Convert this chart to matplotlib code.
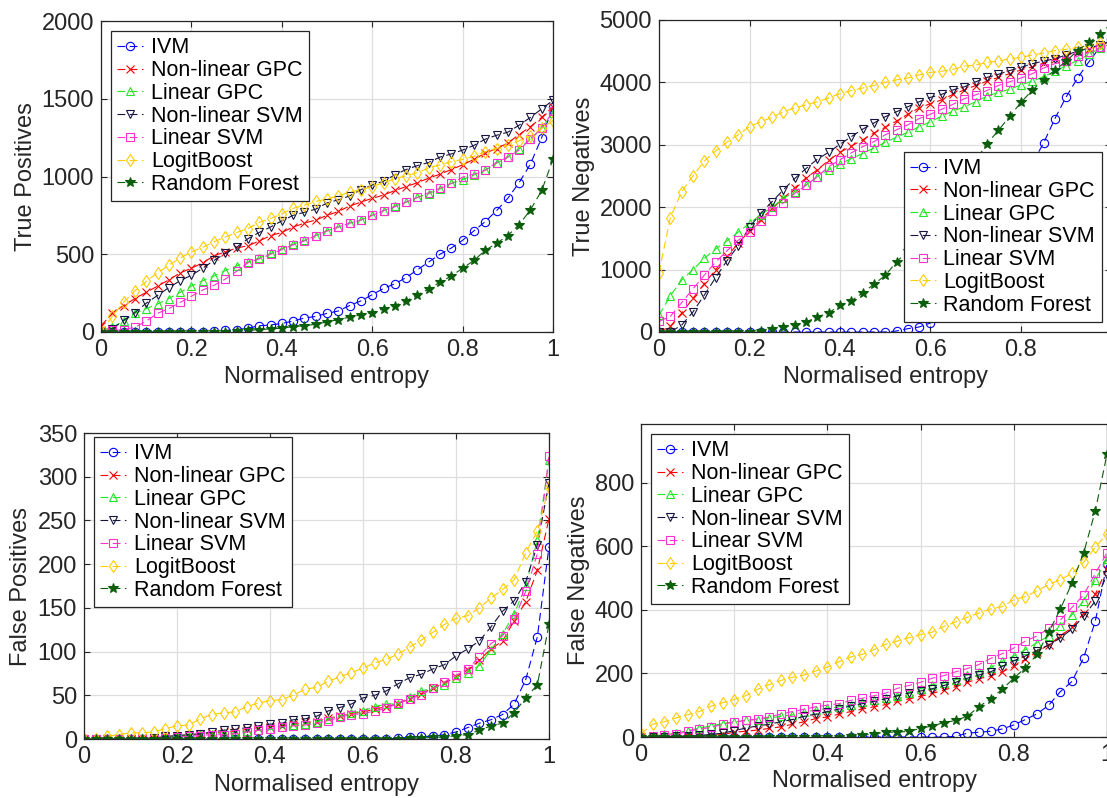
import numpy as np
import matplotlib
matplotlib.use("Agg")
import matplotlib.pyplot as plt

plt.rcParams["font.family"] = ["Liberation Sans", "DejaVu Sans"]

entropy = np.linspace(0, 1, 41)

names = ["IVM", "Non-linear GPC", "Linear GPC", "Non-linear SVM",
         "Linear SVM", "LogitBoost", "Random Forest"]

# True positives
tp_ivm = [0, 0, 0, 0, 0, 0, 0, 0, 0, 2, 5, 10, 15, 25, 40, 45, 55, 70, 90, 100,
          120, 135, 170, 200, 240, 280, 310, 350, 400, 450, 500, 540, 590, 650, 710, 780,
          860, 960, 1080, 1250, 1450]
tp_nlgpc = [40, 120, 170, 215, 255, 295, 335, 380, 410, 445, 490, 515, 540, 555, 585, 620,
            640, 675, 700, 720, 750, 775, 810, 835, 860, 880, 910, 935, 960, 990, 1015, 1045,
            1075, 1110, 1150, 1180, 1215, 1270, 1320, 1380, 1450]
tp_lgpc = [10, 30, 70, 120, 150, 180, 215, 255, 295, 330, 360, 395, 425, 450, 475, 505,
           535, 565, 590, 620, 650, 675, 700, 720, 750, 780, 810, 835, 865, 890, 920, 955,
           980, 1010, 1040, 1085, 1125, 1180, 1240, 1310, 1410]
tp_nlsvm = [0, 20, 75, 125, 185, 235, 285, 330, 365, 410, 460, 505, 545, 600, 640, 675,
            715, 750, 770, 790, 830, 850, 875, 915, 945, 970, 1010, 1045, 1070, 1090, 1125,
            1145, 1170, 1200, 1240, 1265, 1285, 1330, 1380, 1435, 1490]
tp_lsvm = [5, 10, 15, 30, 70, 120, 150, 190, 230, 270, 300, 340, 390, 445, 470, 500,
           530, 560, 585, 620, 650, 675, 700, 720, 750, 780, 805, 835, 865, 895, 925, 955,
           995, 1015, 1040, 1090, 1125, 1170, 1240, 1310, 1420]
tp_logit = [0, 100, 190, 265, 325, 380, 430, 475, 515, 545, 580, 610, 640, 665, 705, 730,
            760, 795, 815, 840, 855, 875, 900, 915, 935, 960, 985, 1005, 1025, 1055, 1075,
            1095, 1110, 1130, 1160, 1180, 1200, 1230, 1260, 1310, 1360]
tp_rf = [0, 0, 0, 0, 0, 0, 0, 0, 0, 0, 2, 3, 5, 10, 15, 20, 25, 35, 40, 50,
         65, 80, 95, 110, 125, 150, 170, 200, 240, 275, 320, 360, 410, 460, 525, 570,
         620, 690, 785, 910, 1110]

# True negatives
tn_ivm = [0, 0, 0, 0, 0, 0, 0, 0, 0, 0, 0, 0, 0, 0, 0, 0, 0, 0, 0, 0,
          0, 16, 54, 80, 145, 300, 500, 750, 1000, 1350, 1700, 2050, 2400, 2700, 3030, 3420,
          3770, 4070, 4330, 4570, 4700]
tn_nlgpc = [0, 90, 300, 540, 770, 1000, 1210, 1420, 1620, 1800, 1980, 2140, 2310, 2470,
            2600, 2750, 2880, 2980, 3080, 3190, 3280, 3380, 3490, 3590, 3660, 3720, 3810,
            3880, 3950, 4020, 4080, 4140, 4200, 4250, 4310, 4370, 4430, 4490, 4530, 4590, 4650]
tn_lgpc = [270, 580, 830, 1000, 1180, 1330, 1460, 1600, 1740, 1880, 2000, 2140, 2250, 2360,
           2490, 2600, 2690, 2780, 2860, 2950, 3040, 3120, 3200, 3290, 3370, 3460, 3540,
           3610, 3690, 3780, 3840, 3890, 3960, 4020, 4090, 4180, 4270, 4350, 4450, 4550, 4620]
tn_nlsvm = [0, 0, 110, 320, 590, 870, 1140, 1380, 1680, 1900, 2090, 2280, 2460, 2620, 2770,
            2880, 3010, 3130, 3250, 3350, 3450, 3530, 3610, 3690, 3760, 3810, 3880, 3930,
            4010, 4080, 4130, 4190, 4240, 4300, 4340, 4380, 4440, 4500, 4550, 4600, 4660]
tn_lsvm = [170, 250, 470, 690, 910, 1120, 1300, 1470, 1600, 1780, 1940, 2070, 2220, 2350,
           2490, 2650, 2760, 2870, 2970, 3050, 3160, 3240, 3320, 3420, 3490, 3570, 3650,
           3740, 3800, 3870, 3950, 4010, 4070, 4140, 4230, 4300, 4340, 4420, 4480, 4560, 4640]
tn_logit = [950, 1830, 2250, 2500, 2740, 2900, 3040, 3160, 3290, 3370, 3440, 3530, 3590,
            3640, 3690, 3750, 3820, 3870, 3910, 3950, 4000, 4040, 4070, 4120, 4160, 4180,
            4210, 4260, 4280, 4320, 4340, 4380, 4400, 4440, 4470, 4510, 4530, 4560, 4580,
            4630, 4680]
tn_rf = [0, 0, 0, 0, 0, 0, 0, 0, 0, 10, 54, 80, 107, 160, 240, 305, 430, 500, 627, 766,
         906, 1125, 1300, 1500, 1750, 2000, 2250, 2500, 2750, 3017, 3230, 3457, 3680, 3875,
         4046, 4196, 4340, 4510, 4640, 4770, 4850]

# False positives
fp_ivm = [0, 0, 0, 0, 0, 0, 0, 0, 0, 0, 0, 0, 0, 0, 0, 0, 0, 0, 0, 0,
          0, 0, 0, 0, 0, 0, 0, 1, 2, 3, 3, 5, 8, 13, 18, 22, 28, 40, 68, 117, 220]
fp_nlgpc = [0, 0, 0, 0, 0, 1, 1, 2, 3, 4, 6, 7, 8, 9, 11, 13, 14, 15, 17, 19,
            20, 24, 26, 29, 31, 34, 37, 40, 46, 52, 58, 64, 71, 79, 90, 103, 112, 135,
            157, 193, 252]
fp_lgpc = [0, 0, 0, 0, 0, 1, 1, 2, 3, 4, 6, 6, 7, 7, 9, 10, 11, 14, 16, 17,
           20, 23, 26, 30, 32, 37, 40, 40, 48, 55, 58, 62, 70, 76, 84, 102, 120, 143,
           175, 228, 319]
fp_nlsvm = [0, 0, 0, 0, 0, 0, 1, 3, 4, 5, 6, 8, 10, 11, 13, 15, 17, 18, 22, 23,
            26, 32, 36, 40, 47, 50, 55, 63, 70, 74, 80, 85, 95, 103, 112, 128, 146, 158,
            180, 222, 293]
fp_lsvm = [0, 0, 0, 0, 0, 0, 0, 1, 2, 3, 4, 5, 5, 6, 8, 10, 12, 14, 15, 16,
           18, 21, 25, 28, 29, 32, 35, 41, 46, 50, 58, 65, 73, 80, 94, 109, 118, 137,
           169, 212, 324]
fp_logit = [0, 0, 3, 5, 7, 7, 8, 12, 15, 16, 23, 28, 30, 31, 37, 41, 44, 45, 50, 57,
            59, 66, 71, 76, 81, 87, 91, 97, 105, 113, 122, 131, 138, 141, 150, 161, 171,
            182, 213, 238, 288]
fp_rf = [0, 0, 0, 0, 0, 0, 0, 0, 0, 0, 0, 0, 0, 0, 0, 0, 0, 0, 0, 0,
         0, 0, 0, 0, 0, 0, 0, 0, 1, 1, 2, 2, 4, 5, 10, 15, 18, 30, 47, 62, 131]

# False negatives
fn_ivm = [0, 0, 0, 0, 0, 0, 0, 0, 0, 0, 0, 0, 0, 0, 0, 0, 0, 0, 0, 0,
          0, 0, 0, 0, 0, 0, 0, 2, 12, 15, 18, 25, 38, 55, 73, 100, 143, 175, 250, 365, 545]
fn_nlgpc = [0, 0, 0, 1, 2, 3, 5, 8, 15, 18, 22, 27, 32, 40, 48, 58, 63, 72, 80, 88,
            95, 102, 112, 120, 128, 137, 148, 158, 172, 183, 192, 205, 222, 245, 268, 290,
            318, 345, 390, 450, 530]
fn_lgpc = [0, 3, 8, 12, 20, 28, 35, 42, 48, 52, 55, 60, 65, 70, 78, 85, 90, 95, 100, 110,
           115, 122, 128, 140, 152, 165, 170, 180, 195, 205, 218, 238, 255, 275, 297, 318,
           350, 385, 428, 495, 560]
fn_nlsvm = [0, 0, 1, 2, 3, 5, 8, 12, 20, 28, 35, 40, 48, 55, 65, 72, 80, 88, 98, 105,
            112, 120, 130, 138, 145, 152, 162, 172, 185, 195, 205, 222, 240, 255, 272, 290,
            312, 340, 380, 428, 510]
fn_lsvm = [0, 2, 5, 8, 18, 25, 30, 40, 47, 52, 57, 63, 72, 80, 87, 95, 100, 105, 115, 122,
           130, 138, 153, 162, 172, 185, 193, 205, 215, 228, 247, 262, 280, 302, 318, 342,
           368, 408, 447, 515, 580]
fn_logit = [10, 40, 48, 60, 70, 80, 97, 108, 118, 130, 150, 165, 178, 188, 195, 208, 220,
            237, 252, 260, 275, 292, 302, 313, 322, 330, 348, 362, 377, 390, 403, 410, 432,
            442, 460, 480, 495, 515, 550, 597, 640]
fn_rf = [0, 0, 0, 0, 0, 0, 0, 0, 0, 0, 0, 0, 0, 0, 0, 0, 0, 0, 2, 5,
         10, 15, 15, 18, 27, 35, 45, 52, 65, 95, 120, 150, 185, 218, 260, 330, 403, 485,
         580, 712, 890]

colors = ["#0000ff", "#ff0000", "#22e622", "#15153f", "#ff30d0", "#ffcc00", "#0b5e0b"]
markers = ["o", "x", "^", "v", "s", "d", "*"]
filled = [False, False, False, False, False, False, True]

W, H = 1107, 798
fig = plt.figure(figsize=(W / 100, H / 100), dpi=100)


def px_axes(left, right, top, bottom):
    return fig.add_axes([left / W, 1 - bottom / H, (right - left) / W, (bottom - top) / H])


panels = [
    # data, ylabel, ylim, ystep, axes px (l, r, t, b), legend loc, legend anchor px, label coords
    ([tp_ivm, tp_nlgpc, tp_lgpc, tp_nlsvm, tp_lsvm, tp_logit, tp_rf], "True Positives",
     2000, 500, (101, 553, 21, 332), "upper left", (111, 31), (-0.1416, -0.11)),
    ([tn_ivm, tn_nlgpc, tn_lgpc, tn_nlsvm, tn_lsvm, tn_logit, tn_rf], "True Negatives",
     5000, 1000, (659, 1111.5, 20, 332), "lower right", (1101.5, 322), (-0.1414, -0.11)),
    ([fp_ivm, fp_nlgpc, fp_lgpc, fp_nlsvm, fp_lsvm, fp_logit, fp_rf], "False Positives",
     350, 50, (84, 549, 433, 739), "upper left", (94, 437), (-0.1118, -0.114)),
    ([fn_ivm, fn_nlgpc, fn_lgpc, fn_nlsvm, fn_lsvm, fn_logit, fn_rf], "False Negatives",
     985, 200, (641, 1107, 424, 737), "upper left", (651, 434), (-0.1094, -0.107)),
]

dark = "#262626"
for series, ylabel, ymax, ystep, box, loc, anchor, lab in panels:
    ax = px_axes(*box)
    for vals, name, c, m, f in zip(series, names, colors, markers, filled):
        ax.plot(entropy, vals, linestyle=(0, (7, 4)), color=c, lw=0.8,
                marker=m, markersize=6 if m != "*" else 7,
                markerfacecolor=c if f else "none", markeredgecolor=c,
                markeredgewidth=0.8, label=name)
    ax.set_xlim(0, 1)
    ax.set_ylim(0, ymax)
    ax.set_xticks([0, 0.2, 0.4, 0.6, 0.8, 1])
    ax.set_xticklabels(["0", "0.2", "0.4", "0.6", "0.8", "1"])
    ax.set_yticks(np.arange(0, ymax + 1, ystep))
    ax.grid(True, color="#dedede", lw=0.9)
    ax.set_axisbelow(True)
    ax.tick_params(direction="in", length=4, width=0.8, top=True, right=True,
                   labelsize=17, colors=dark, pad=5)
    for s in ax.spines.values():
        s.set_color(dark)
        s.set_linewidth(0.9)
    ax.set_ylabel(ylabel, fontsize=17, color=dark)
    ax.set_xlabel("Normalised entropy", fontsize=17, color=dark)
    ax.yaxis.set_label_coords(lab[0], 0.5)
    ax.xaxis.set_label_coords(0.5, lab[1])
    leg = ax.legend(loc=loc, bbox_to_anchor=(anchor[0] / W, 1 - anchor[1] / H),
                    bbox_transform=fig.transFigure, borderaxespad=0,
                    fontsize=15.5, fancybox=False, framealpha=1, edgecolor=dark,
                    borderpad=0.3, labelspacing=0.08, handlelength=1.2,
                    handletextpad=0.35)
    leg.get_frame().set_linewidth(0.9)
    for t in leg.get_texts():
        t.set_color("black")

fig.savefig("out.png", dpi=100)
